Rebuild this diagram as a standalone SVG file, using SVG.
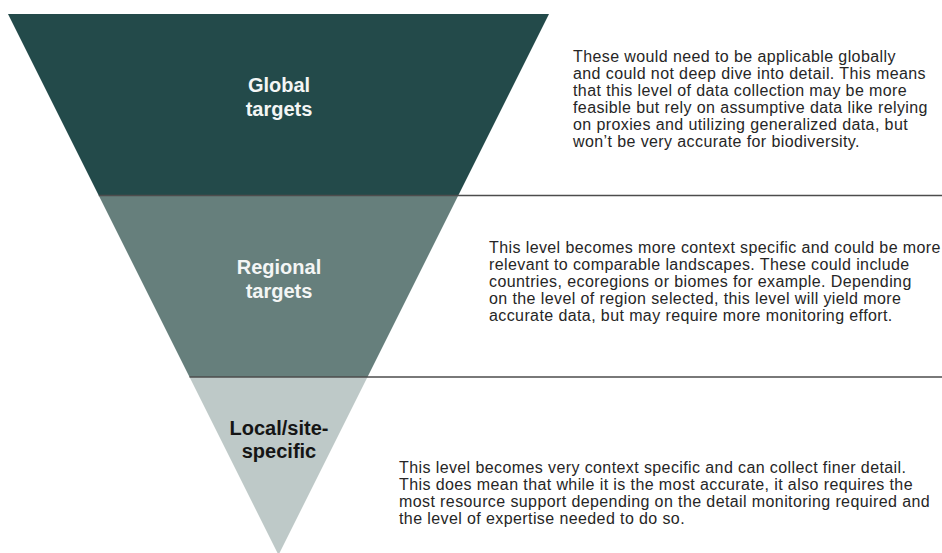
<svg xmlns="http://www.w3.org/2000/svg" width="942" height="553" viewBox="0 0 942 553">
<style>
.title{font-family:"Liberation Sans",Arial,sans-serif;font-size:20px;font-weight:bold;text-anchor:middle}
.light{fill:#f4f6f5}
.dark{fill:#151515}
.body{font-family:"Liberation Sans",Arial,sans-serif;font-size:16px;letter-spacing:0.4px;fill:#262626}
.div{stroke:#4d4d4d;stroke-width:1.5;fill:none}
</style>
<rect width="942" height="553" fill="#ffffff"/>
<g id="global">
<polygon points="8,14 549,14 458.25,195.5 98.75,195.5" fill="#234a4a"/>
<text class="title light" x="279" y="92">Global</text>
<text class="title light" x="279" y="116">targets</text>
<text class="body" x="573" y="62">These would need to be applicable globally</text>
<text class="body" x="573" y="79">and could not deep dive into detail. This means</text>
<text class="body" x="573" y="96">that this level of data collection may be more</text>
<text class="body" x="573" y="113">feasible but rely on assumptive data like relying</text>
<text class="body" x="573" y="130">on proxies and utilizing generalized data, but</text>
<text class="body" x="573" y="147">won’t be very accurate for biodiversity.</text>
</g>
<g id="regional">
<polygon points="98.75,195.5 458.25,195.5 367.5,377 189.5,377" fill="#667f7c"/>
<text class="title light" x="279" y="274">Regional</text>
<text class="title light" x="279" y="298">targets</text>
<text class="body" x="489" y="253">This level becomes more context specific and could be more</text>
<text class="body" x="489" y="270">relevant to comparable landscapes. These could include</text>
<text class="body" x="489" y="287">countries, ecoregions or biomes for example. Depending</text>
<text class="body" x="489" y="304">on the level of region selected, this level will yield more</text>
<text class="body" x="489" y="321">accurate data, but may require more monitoring effort.</text>
</g>
<g id="local">
<polygon points="189.5,377 367.5,377 278.5,555" fill="#bec9c8"/>
<text class="title dark" x="279" y="435">Local/site-</text>
<text class="title dark" x="279" y="458">specific</text>
<text class="body" x="399" y="473">This level becomes very context specific and can collect finer detail.</text>
<text class="body" x="399" y="490">This does mean that while it is the most accurate, it also requires the</text>
<text class="body" x="399" y="507">most resource support depending on the detail monitoring required and</text>
<text class="body" x="399" y="524">the level of expertise needed to do so.</text>
</g>
<g id="connectors">
<line class="div" x1="98.75" y1="195.5" x2="942" y2="195.5"/>
<line class="div" x1="189.5" y1="377" x2="942" y2="377"/>
</g>
</svg>
